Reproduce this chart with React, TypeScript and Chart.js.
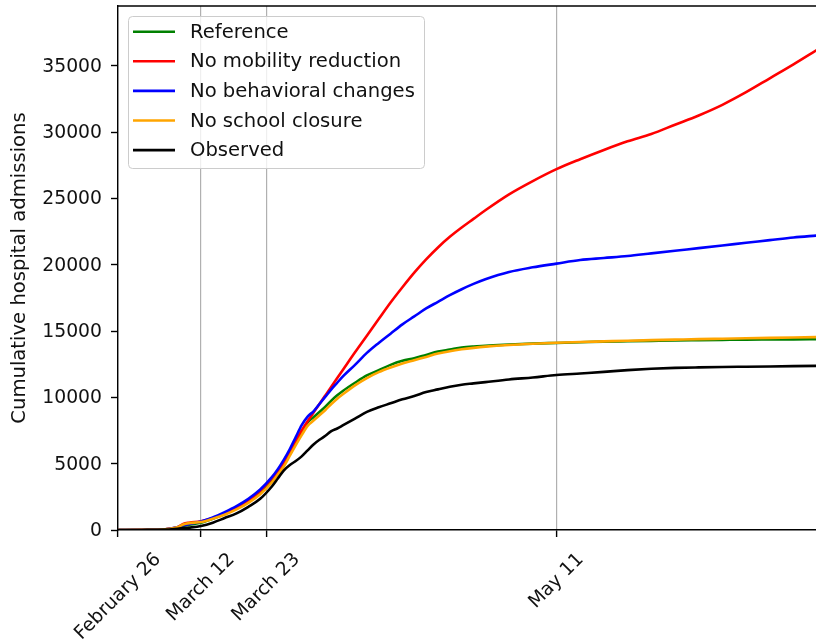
import React, { useEffect, useRef } from "react";
import { Chart, registerables } from "chart.js";

Chart.register(...registerables);

// Day index (0 = February 26)
const days = [0, 4, 8, 10, 11, 12, 14, 16, 18, 20, 22, 24, 26, 27, 28, 29, 30, 31, 32, 33, 34, 35, 36, 37, 38, 40, 42, 44, 46, 48, 50, 52, 54, 56, 58, 60, 62, 66, 70, 74, 78, 82, 86, 90, 94, 98, 102, 106, 110, 114, 118];

const reference = [0, 10, 50, 150, 300, 400, 550, 850, 1200, 1650, 2150, 2850, 3750, 4350, 5000, 5800, 6600, 7350, 8100, 8500, 8900, 9300, 9750, 10150, 10500, 11100, 11650, 12050, 12450, 12750, 12950, 13200, 13450, 13600, 13750, 13830, 13880, 13980, 14050, 14100, 14150, 14200, 14230, 14260, 14290, 14310, 14330, 14350, 14360, 14370, 14390];

const noMobility = [0, 10, 60, 200, 450, 550, 650, 900, 1250, 1650, 2200, 2950, 3900, 4450, 5100, 5900, 6700, 7500, 8200, 8850, 9500, 10150, 10800, 11450, 12100, 13400, 14650, 15900, 17150, 18300, 19400, 20400, 21300, 22100, 22800, 23450, 24100, 25300, 26300, 27200, 27950, 28650, 29300, 29850, 30550, 31250, 32050, 33000, 34050, 35100, 36200];

const noBehavioral = [0, 10, 60, 200, 350, 450, 650, 950, 1350, 1800, 2350, 3050, 4000, 4600, 5300, 6100, 7000, 7900, 8550, 8950, 9500, 10050, 10600, 11100, 11600, 12450, 13350, 14100, 14800, 15500, 16100, 16700, 17200, 17700, 18150, 18550, 18900, 19450, 19800, 20080, 20350, 20500, 20650, 20850, 21050, 21250, 21450, 21650, 21850, 22050, 22200];

const noSchool = [0, 10, 60, 200, 420, 520, 600, 850, 1150, 1550, 2050, 2700, 3600, 4200, 4800, 5600, 6400, 7150, 7850, 8250, 8650, 9050, 9500, 9900, 10250, 10900, 11450, 11900, 12250, 12550, 12800, 13050, 13300, 13480, 13620, 13730, 13820, 13950, 14040, 14110, 14170, 14220, 14270, 14310, 14350, 14390, 14420, 14450, 14480, 14510, 14540];

const observed = [0, 5, 30, 100, 140, 180, 300, 550, 900, 1250, 1750, 2350, 3300, 3900, 4500, 4900, 5200, 5550, 6000, 6450, 6800, 7100, 7450, 7650, 7900, 8400, 8900, 9250, 9550, 9850, 10100, 10400, 10600, 10800, 10950, 11050, 11150, 11350, 11500, 11680, 11800, 11920, 12050, 12150, 12220, 12260, 12290, 12310, 12330, 12350, 12370];

const tickDays = [0, 14, 25, 74];
const tickLabels = ["February 26", "March 12", "March 23", "May 11"];
const yTicks = [0, 5000, 10000, 15000, 20000, 25000, 30000, 35000];

const seriesLabels = ["Reference", "No mobility reduction", "No behavioral changes", "No school closure", "Observed"];
const seriesColors = ["#008000", "#ff0000", "#0000ff", "#ffa500", "#000000"];
const seriesValues = [reference, noMobility, noBehavioral, noSchool, observed];

const yTitle = "Cumulative hospital admissions";

const FS = 18.8;
const FONT = `${FS}px "DejaVu Sans"`;
const FONT_BIG = `19.6px "DejaVu Sans"`;
const TEXT = "#111";

const decorPlugin = {
  id: "decor",
  afterDraw(chart: any) {
    const ctx = chart.ctx as CanvasRenderingContext2D;
    const { left, right, top, bottom } = chart.chartArea;
    const xs = chart.scales.x;
    const ys = chart.scales.y;
    ctx.save();
    // top spine
    ctx.strokeStyle = "#000";
    ctx.lineWidth = 1.4;
    ctx.beginPath();
    ctx.moveTo(left, top);
    ctx.lineTo(right, top);
    ctx.stroke();

    ctx.font = FONT;
    ctx.fillStyle = TEXT;

    // y tick labels
    ctx.textAlign = "right";
    ctx.textBaseline = "middle";
    yTicks.forEach((v) => {
      ctx.fillText(String(v), left - 16, ys.getPixelForValue(v) + 1);
    });

    // x tick labels, rotated 45 deg and centred on the tick
    tickDays.forEach((d, i) => {
      const px = xs.getPixelForValue(d);
      const w = ctx.measureText(tickLabels[i]).width;
      const h = FS * 1.16;
      const cy = bottom + 19 + ((w + h) * Math.SQRT1_2) / 2;
      ctx.save();
      ctx.translate(px, cy);
      ctx.rotate(-Math.PI / 4);
      ctx.textAlign = "center";
      ctx.textBaseline = "middle";
      ctx.fillText(tickLabels[i], 0, 0);
      ctx.restore();
    });

    // y title
    ctx.font = FONT_BIG;
    ctx.save();
    ctx.translate(20, (top + bottom) / 2);
    ctx.rotate(-Math.PI / 2);
    ctx.textAlign = "center";
    ctx.textBaseline = "middle";
    ctx.fillText(yTitle, 0, 0);
    ctx.restore();

    // legend
    const bx = left + 10;
    const by = top + 10;
    const bw = 296;
    const bh = 152;
    ctx.beginPath();
    (ctx as any).roundRect(bx + 0.5, by + 0.5, bw, bh, 4);
    ctx.fillStyle = "rgba(255,255,255,0.8)";
    ctx.fill();
    ctx.strokeStyle = "#cccccc";
    ctx.lineWidth = 1;
    ctx.stroke();
    ctx.textAlign = "left";
    ctx.textBaseline = "middle";
    seriesLabels.forEach((lab, i) => {
      const ry = by + 15.7 + i * 29.6;
      ctx.strokeStyle = seriesColors[i];
      ctx.lineWidth = 2.6;
      ctx.beginPath();
      ctx.moveTo(bx + 5, ry);
      ctx.lineTo(bx + 47, ry);
      ctx.stroke();
      ctx.fillStyle = TEXT;
      ctx.fillText(lab, bx + 62, ry + 1);
    });
    ctx.restore();
  },
};

export default function App() {
  const ref = useRef<HTMLCanvasElement | null>(null);
  useEffect(() => {
    if (!ref.current) return;
    const datasets = seriesLabels.map((label, i) => ({
      label,
      data: days.map((d, j) => ({ x: d, y: seriesValues[i][j] })),
      borderColor: seriesColors[i],
      backgroundColor: seriesColors[i],
      borderWidth: 2.6,
      pointRadius: 0,
      fill: false,
      cubicInterpolationMode: "monotone" as const,
      order: 5 - i,
    }));
    const chart = new Chart(ref.current, {
      type: "line",
      data: { datasets },
      options: {
        animation: false,
        responsive: false,
        devicePixelRatio: 1,
        layout: { padding: { left: 0, right: 0, top: 6, bottom: 0 } },
        plugins: { legend: { display: false }, tooltip: { enabled: false } },
        scales: {
          x: {
            type: "linear",
            min: 0,
            max: 117.8,
            afterFit: (s: any) => {
              s.height = 109;
            },
            afterBuildTicks: (s: any) => {
              s.ticks = tickDays.map((v) => ({ value: v }));
            },
            ticks: { display: false },
            grid: {
              color: "#b0b0b0",
              lineWidth: 1.2,
              drawTicks: true,
              tickLength: 7,
              tickColor: "#000",
              tickWidth: 1.4,
            },
            border: { display: true, color: "#000", width: 1.4 },
          },
          y: {
            type: "linear",
            min: 0,
            max: 39500,
            afterFit: (s: any) => {
              s.width = 118;
            },
            afterBuildTicks: (s: any) => {
              s.ticks = yTicks.map((v) => ({ value: v }));
            },
            ticks: { display: false },
            grid: {
              drawOnChartArea: false,
              drawTicks: true,
              tickLength: 7,
              tickColor: "#000",
              tickWidth: 1.4,
            },
            border: { display: true, color: "#000", width: 1.4 },
          },
        },
      },
      plugins: [decorPlugin],
    });
    return () => chart.destroy();
  }, []);
  return (
    <div style={{ position: "fixed", left: 0, top: 0, width: 816, height: 639, background: "#fff" }}>
      <canvas ref={ref} width={816} height={639} style={{ display: "block" }} />
    </div>
  );
}
